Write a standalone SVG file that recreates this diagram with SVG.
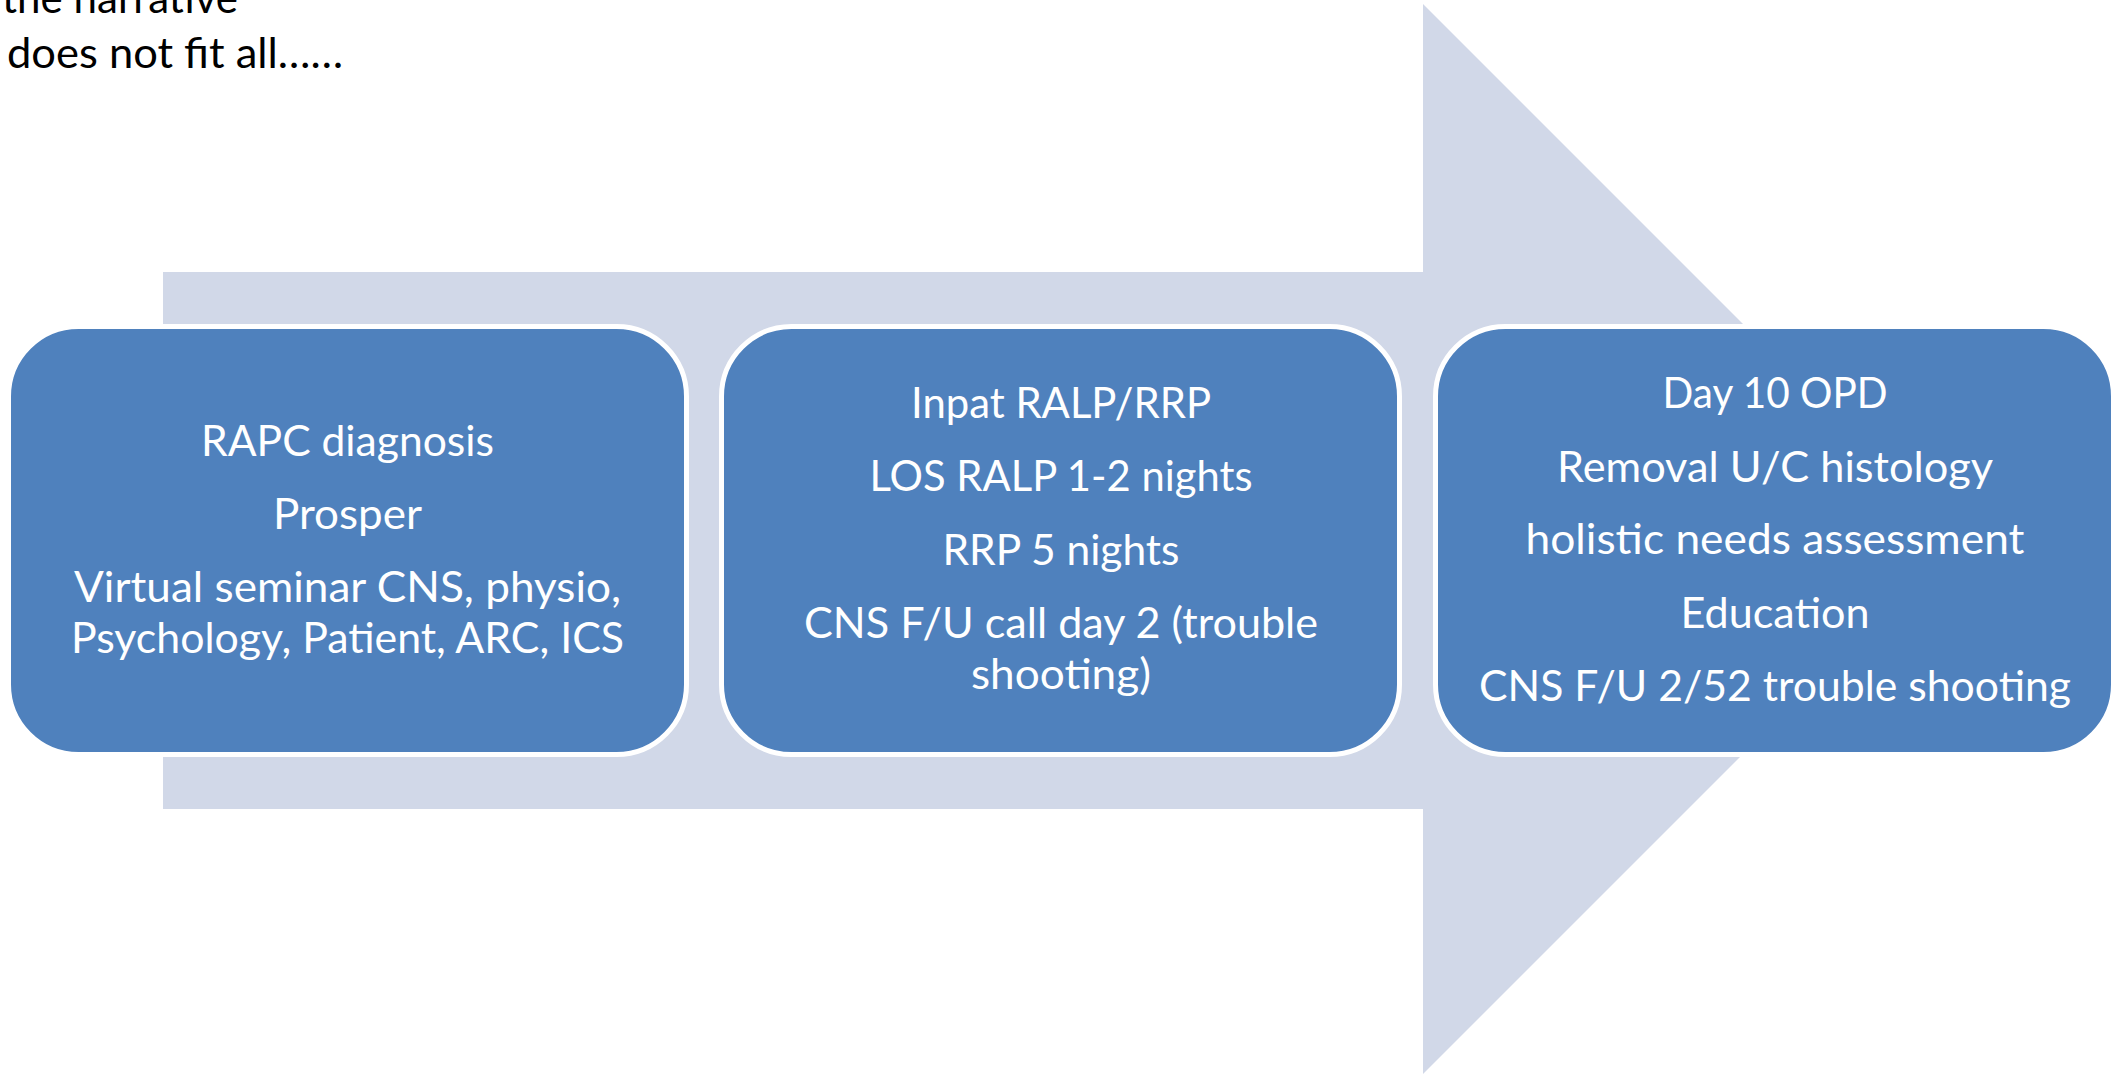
<svg xmlns="http://www.w3.org/2000/svg" width="2126" height="1074" viewBox="0 0 2126 1074">
<style>
.box{fill:#4F81BD;stroke:#FFFFFF;stroke-width:5}
.t{font-family:Lato,"Liberation Sans",sans-serif;font-size:43px;fill:#FFFFFF;text-anchor:middle}
.h{font-family:Lato,"Liberation Sans",sans-serif;font-size:42px;fill:#000000}
</style>
<rect width="2126" height="1074" fill="#FFFFFF"/>
<g id="caption">
<text class="h" x="2" y="13" textLength="236" lengthAdjust="spacingAndGlyphs">the narrative</text>
<text class="h" x="7" y="68" textLength="336" lengthAdjust="spacingAndGlyphs">does not fit all……</text>
</g>
<g id="connectors">
<polygon points="163,272 1423,272 1423,4 1958,539 1423,1074 1423,809 163,809" fill="#D1D8E8"/>
</g>
<g id="node1">
<rect class="box" x="8.5" y="326.5" width="678" height="428" rx="70" ry="70"/>
<text class="t" x="347.5" y="456" textLength="293" lengthAdjust="spacingAndGlyphs">RAPC diagnosis</text>
<text class="t" x="347.5" y="529" textLength="149" lengthAdjust="spacingAndGlyphs">Prosper</text>
<text class="t" x="347.5" y="602" textLength="547" lengthAdjust="spacingAndGlyphs">Virtual seminar CNS, physio,</text>
<text class="t" x="347.5" y="653" textLength="553" lengthAdjust="spacingAndGlyphs">Psychology, Patient, ARC, ICS</text>
</g>
<g id="node2">
<rect class="box" x="721.5" y="326.5" width="678" height="428" rx="70" ry="70"/>
<text class="t" x="1061" y="418" textLength="300" lengthAdjust="spacingAndGlyphs">Inpat RALP/RRP</text>
<text class="t" x="1061" y="491" textLength="383" lengthAdjust="spacingAndGlyphs">LOS RALP 1-2 nights</text>
<text class="t" x="1061" y="565" textLength="237" lengthAdjust="spacingAndGlyphs">RRP 5 nights</text>
<text class="t" x="1061" y="638" textLength="514" lengthAdjust="spacingAndGlyphs">CNS F/U call day 2 (trouble</text>
<text class="t" x="1061" y="689" textLength="180" lengthAdjust="spacingAndGlyphs">shooting)</text>
</g>
<g id="node3">
<rect class="box" x="1435.5" y="326.5" width="678" height="428" rx="70" ry="70"/>
<text class="t" x="1775" y="408" textLength="225" lengthAdjust="spacingAndGlyphs">Day 10 OPD</text>
<text class="t" x="1775" y="482" textLength="436" lengthAdjust="spacingAndGlyphs">Removal U/C histology</text>
<text class="t" x="1775" y="554" textLength="499" lengthAdjust="spacingAndGlyphs">holistic needs assessment</text>
<text class="t" x="1775" y="628" textLength="189" lengthAdjust="spacingAndGlyphs">Education</text>
<text class="t" x="1775" y="701" textLength="592" lengthAdjust="spacingAndGlyphs">CNS F/U 2/52 trouble shooting</text>
</g>
</svg>
